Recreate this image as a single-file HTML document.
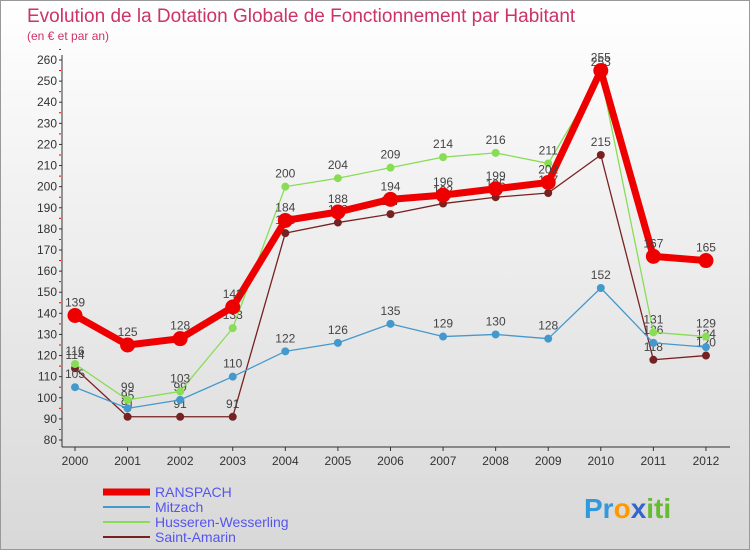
<!DOCTYPE html>
<html><head><meta charset="utf-8"><style>
body{margin:0;width:750px;height:550px;overflow:hidden;font-family:"Liberation Sans",sans-serif}
</style></head><body>
<svg width="750" height="550" xmlns="http://www.w3.org/2000/svg" font-family="Liberation Sans, sans-serif">
<defs><linearGradient id="bg" x1="0" y1="0" x2="0" y2="1"><stop offset="0" stop-color="#ffffff"/><stop offset="1" stop-color="#d8d8d8"/></linearGradient></defs>
<rect x="0.5" y="0.5" width="749" height="549" fill="url(#bg)" stroke="#999"/>
<text x="27" y="22" font-size="19" fill="#cc3366">Evolution de la Dotation Globale de Fonctionnement par Habitant</text>
<text x="27" y="40" font-size="12" fill="#cc3366">(en € et par an)</text>
<g id="axes"></g><g id="series"></g><g id="legend"></g>
<text x="584" y="518" font-size="28" font-weight="bold"><tspan fill="#3399dd">Pr</tspan><tspan fill="#ff9900">o</tspan><tspan fill="#3366cc">x</tspan><tspan fill="#66bb33">iti</tspan></text>
</svg>
<script>
const years=["2000","2001","2002","2003","2004","2005","2006","2007","2008","2009","2010","2011","2012"];
const yTicks=[80,90,100,110,120,130,140,150,160,170,180,190,200,210,220,230,240,250,260];
const ranspach=[139,125,128,143,184,188,194,196,199,202,255,167,165];
const mitzach=[105,95,99,110,122,126,135,129,130,128,152,126,124];
const husseren=[116,99,103,133,200,204,209,214,216,211,253,131,129];
const saintAmarin=[114,91,91,91,178,183,187,192,195,197,215,118,120];
const NS="http://www.w3.org/2000/svg";
const X=i=>75+i*52.58, Y=v=>440-(v-80)*380/180;
function mk(t,a,p){const e=document.createElementNS(NS,t);for(const k in a)e.setAttribute(k,a[k]);p.appendChild(e);return e;}
const ax=document.getElementById('axes');
let l=mk('line',{x1:62,y1:55,x2:62,y2:447,stroke:'#333'},ax);


l=mk('line',{x1:62,y1:447,x2:730,y2:447,stroke:'#333'},ax);


yTicks.forEach(v=>{const t=mk('text',{x:57,y:Y(v)+4,'font-size':12,'text-anchor':'end',fill:'#333'},ax);t.textContent=v;


mk('line',{x1:59,y1:Y(v),x2:62,y2:Y(v),stroke:'#333'},ax);
mk('line',{x1:59,y1:Y(v+5),x2:61,y2:Y(v+5),stroke:'#e00'},ax);});
years.forEach((y,i)=>{const t=mk('text',{x:X(i),y:465,'font-size':12,'text-anchor':'middle',fill:'#333'},ax);t.textContent=y;


mk('line',{x1:X(i),y1:447,x2:X(i),y2:451,stroke:'#333'},ax);});
const sg=document.getElementById('series');
const series=[
 {n:'saint-amarin',d:saintAmarin,c:'#772222',w:1.3,r:4,label:'Saint-Amarin'},
 {n:'mitzach',d:mitzach,c:'#4499cc',w:1.3,r:4,label:'Mitzach'},
 {n:'husseren-wesserling',d:husseren,c:'#88dd55',w:1.3,r:4,label:'Husseren-Wesserling'},
 {n:'ranspach',d:ranspach,c:'#ee0000',w:7,r:7.5,label:'RANSPACH'}];
series.forEach(s=>{const g=mk('g',{},sg);


const p=mk('polyline',{points:s.d.map((v,i)=>X(i)+','+Y(v)).join(' '),fill:'none',stroke:s.c,'stroke-width':s.w,'stroke-linejoin':'round'},g);


s.d.forEach((v,i)=>{const c=mk('circle',{cx:X(i),cy:Y(v),r:s.r,fill:s.c},g);


const t=mk('text',{x:X(i),y:Y(v)-9,'font-size':12,'text-anchor':'middle',fill:'#444'},g);t.textContent=v;

});});
const lg=document.getElementById('legend');
[series[3],series[1],series[2],series[0]].forEach((s,k)=>{const y=492+k*15;
const g=mk('g',{},lg);


mk('line',{x1:103,y1:y,x2:150,y2:y,stroke:s.c,'stroke-width':s.n==='ranspach'?7:2},g);
const t=mk('text',{x:155,y:y+5,'font-size':14,fill:'#5555ee'},g);t.textContent=s.label;});
</script>
</body></html>
